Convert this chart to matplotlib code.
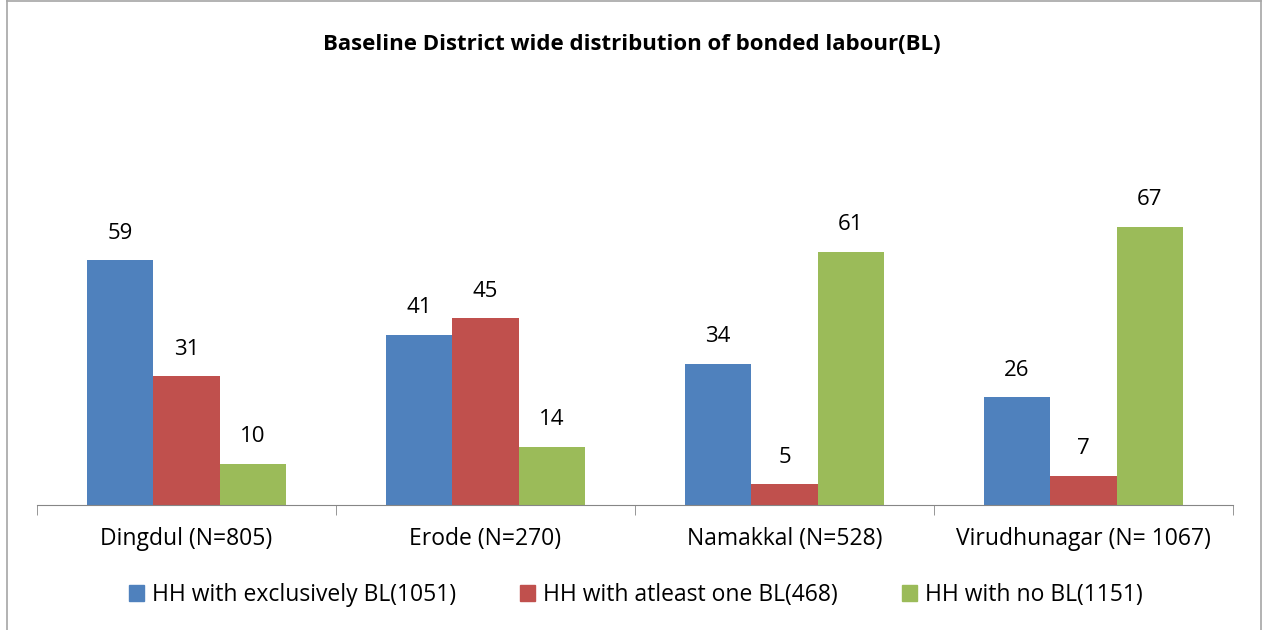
import numpy as np
import matplotlib.pyplot as plt
from matplotlib.lines import Line2D

# Data
districts = ["Dingdul (N=805)", "Erode (N=270)", "Namakkal (N=528)", "Virudhunagar (N= 1067)"]
series_names = ["HH with exclusively BL(1051)", "HH with atleast one BL(468)", "HH with no BL(1151)"]
exclusive_bl = [59, 41, 34, 26]
atleast_one_bl = [31, 45, 5, 7]
no_bl = [10, 14, 61, 67]

colors = ["#4F81BD", "#C0504D", "#9BBB59"]

plt.rcParams['font.family'] = ['Open Sans', 'DejaVu Sans']

fig = plt.figure(figsize=(12.64, 6.3), dpi=100)
ax = fig.add_axes([37 / 1264, 125 / 630, 1196 / 1264, 332 / 630])

x = np.arange(len(districts))
w = 2 / 9
for i, (vals, name) in enumerate(zip([exclusive_bl, atleast_one_bl, no_bl], series_names)):
    pos = x + (i - 1) * w
    ax.bar(pos, vals, width=w, color=colors[i], label=name)
    for p, v in zip(pos, vals):
        ax.text(p, v + 6.5, str(v), ha='center', va='center', fontsize=16)

ax.set_xlim(-0.5, len(districts) - 0.5)
ax.set_ylim(0, 80)
ax.set_yticks([])
for s in ['top', 'right', 'left']:
    ax.spines[s].set_visible(False)
ax.spines['bottom'].set_color('#868686')
ax.set_xticks(x)
ax.set_xticklabels(districts, fontsize=16.5)
ax.tick_params(axis='x', which='major', length=0, pad=16)
ax.set_xticks(np.arange(-0.5, len(districts), 1), minor=True)
ax.tick_params(axis='x', which='minor', length=7, color='#868686')

fig.text(0.5, 1 - 45 / 630, "Baseline District wide distribution of bonded labour(BL)",
         ha='center', va='center', fontsize=16, fontweight='bold')

handles = [plt.Rectangle((0, 0), 1, 1, color=c) for c in colors]
fig.legend(handles, series_names, loc='center', bbox_to_anchor=(0.503, 1 - 595 / 630),
           ncol=3, frameon=False, fontsize=16.5, handlelength=0.65, handleheight=0.65,
           handletextpad=0.35, columnspacing=2.8)

# chart border
for xx in [7 / 1264, 1261 / 1264]:
    fig.add_artist(Line2D([xx, xx], [0, 1], color='#A6A6A6', lw=1.2, transform=fig.transFigure))
fig.add_artist(Line2D([7 / 1264, 1261 / 1264], [0.998, 0.998], color='#A6A6A6', lw=1.2,
                      transform=fig.transFigure))

fig.savefig('out.png', dpi=100)
